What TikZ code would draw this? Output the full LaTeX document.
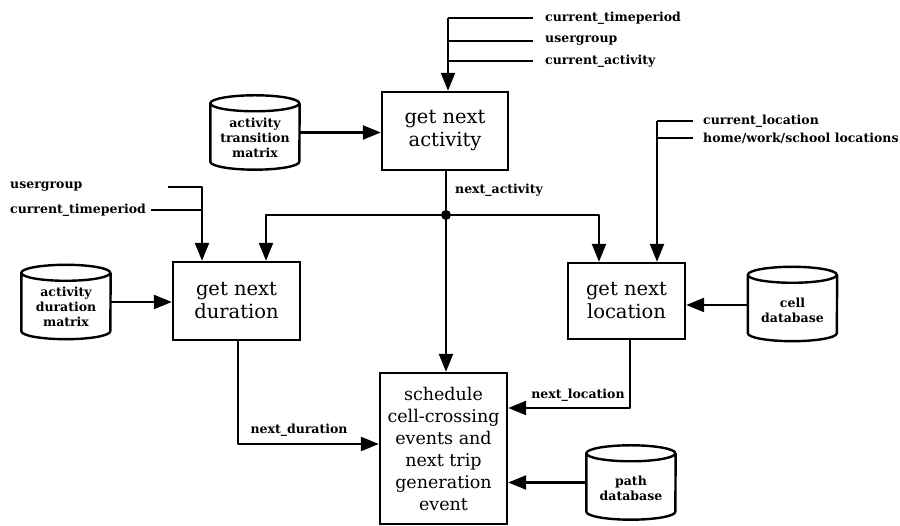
\documentclass[tikz,border=0pt]{standalone}
\usepackage{fontspec}
\setmainfont{DejaVu Serif}
\usetikzlibrary{arrows.meta}
\tikzset{
  ln/.style={line width=2.4pt, line join=round},
  arr/.style={ln, -{Triangle[length=18pt,width=14pt]}},
  proc/.style={draw, line width=2.4pt, align=center, inner sep=0pt,
    font=\fontsize{19.5}{23}\selectfont},
  schtext/.style={font=\fontsize{17.5}{22}\selectfont},
  dbase/.style={inner sep=0pt, minimum width=89pt, minimum height=74pt},
  dbtext/.style={align=center, font=\bfseries\fontsize{12.5}{15}\selectfont},
  lbl/.style={font=\bfseries\fontsize{12.5}{14}\selectfont, inner sep=0pt}
}
\newcommand{\drawcyl}[1]{%
  \draw[ln] ([yshift=-8pt]#1.north west)
    arc[start angle=180,end angle=360,x radius=44.5pt,y radius=8pt]
    arc[start angle=0,end angle=180,x radius=44.5pt,y radius=8pt]
    -- ([yshift=8pt]#1.south west)
    arc[start angle=180,end angle=360,x radius=44.5pt,y radius=8pt]
    -- ([yshift=-8pt]#1.north east);}
\begin{document}
\begin{tikzpicture}[x=1pt,y=1pt]
\useasboundingbox (0,0) rectangle (900,526);
% process boxes
\node[proc, minimum width=126pt, minimum height=78pt] (act) at (445,395) {get next\\activity};
\node[proc, minimum width=127pt, minimum height=78pt] (dur) at (236.5,225) {get next\\duration};
\node[proc, minimum width=117pt, minimum height=76pt] (loc) at (626.5,225) {get next\\location};
\node[proc, schtext, minimum width=127pt, minimum height=151pt] (sch) at (443.5,77.5) {schedule\\cell-crossing\\events and\\next trip\\generation\\event};
% databases
\node[dbase] (atm) at (255,393.5) {};
\node[dbase] (adm) at (66,224) {};
\node[dbase] (cdb) at (792.5,222) {};
\node[dbase] (pdb) at (631,43.5) {};
\drawcyl{atm}\drawcyl{adm}\drawcyl{cdb}\drawcyl{pdb}
\node[dbtext] at ([yshift=-5pt]atm.center) {activity\\transition\\matrix};
\node[dbtext] at ([yshift=-5pt]adm.center) {activity\\duration\\matrix};
\node[dbtext] at ([yshift=-6pt]cdb.center) {cell\\database};
\node[dbtext] at ([yshift=-6pt]pdb.center) {path\\database};
% database arrows
\draw[arr] (atm.east) -- (atm.east -| act.west);
\draw[arr] (adm.east) -- (adm.east -| dur.west);
\draw[arr] ([yshift=-1pt]cdb.west) -- ([yshift=-1pt]cdb.west -| loc.east);
\draw[arr] (pdb.west) -- (pdb.west -| sch.east);
% inputs to get next activity
\coordinate (ain) at (448,508);
\node[lbl, anchor=west] (a1) at (545,508) {current\_timeperiod};
\node[lbl, anchor=west] (a2) at (545,485) {usergroup};
\node[lbl, anchor=west] (a3) at (545,465) {current\_activity};
\draw[ln] ([xshift=-12pt]a1.west) -- (ain);
\draw[ln] ([xshift=-12pt]a2.west) -- (a2.west -| ain);
\draw[ln] ([xshift=-12pt]a3.west) -- (a3.west -| ain);
\draw[arr] (ain) -- (ain |- act.north);
% next activity distribution
\coordinate (junc) at (446,311);
\coordinate (dA) at (266,311);
\coordinate (lA) at (599,311);
\draw[ln] (act.south -| junc) -- (junc);
\node[lbl, anchor=west] at (455,336) {next\_activity};
\draw[arr] (junc) -- (dA) -- (dA |- dur.north);
\draw[arr] (junc) -- (lA) -- (lA |- loc.north);
\draw[arr] (junc) -- (junc |- sch.north);
\fill (junc) circle (5pt);
% inputs to get next duration
\coordinate (din) at (202,339);
\coordinate (ugend) at (168,339);
\node[lbl, anchor=west] at (10,339) {usergroup};
\node[lbl, anchor=west] (d2) at (10,316) {current\_timeperiod};
\draw[arr] (ugend) -- (din) -- (din |- dur.north);
\draw[ln] ([xshift=5pt]d2.east) -- (d2.east -| din);
% inputs to get next location
\coordinate (lin) at (657,405);
\node[lbl, anchor=west] (l1) at (703,405) {current\_location};
\node[lbl, anchor=west] (l2) at (703,388) {home/work/school locations};
\draw[ln] ([xshift=-10pt]l1.west) -- (lin);
\draw[ln] ([xshift=-10pt]l2.west) -- (l2.west -| lin);
\draw[arr] (lin) -- (lin |- loc.north);
% outputs
\coordinate (nd) at (238,82);
\draw[arr] (dur.south -| nd) -- (nd) -- (nd -| sch.west);
\node[lbl] at (299,96) {next\_duration};
\coordinate (nl) at (630,118);
\draw[arr] (loc.south -| nl) -- (nl) -- (nl -| sch.east);
\node[lbl] at (578,131) {next\_location};
\end{tikzpicture}
\end{document}
